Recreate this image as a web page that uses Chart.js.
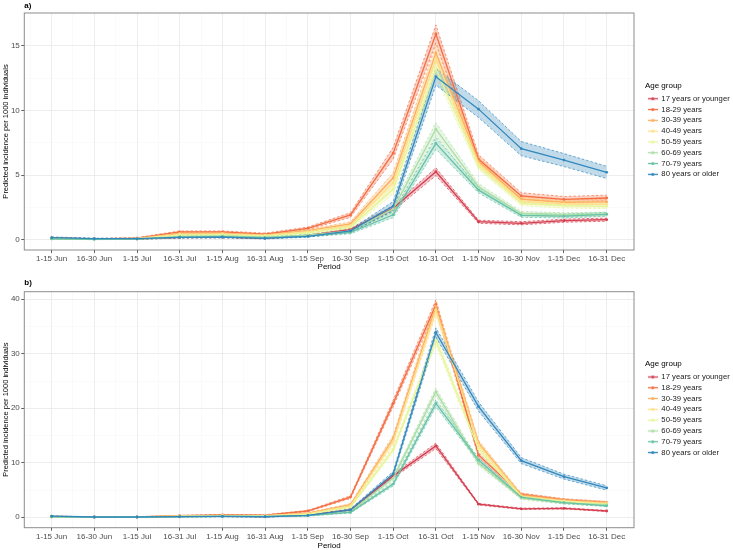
<!DOCTYPE html>
<html>
<head>
<meta charset="utf-8">
<script src="https://cdn.jsdelivr.net/npm/chart.js@4.4.1/dist/chart.umd.min.js"></script>
<style>
  html, body { margin: 0; padding: 0; background: #fff; width: 733px; height: 550px; overflow: hidden; }
  canvas { display: block; position: absolute; left: 0; }
  #panelA { top: 0; }
  #panelB { top: 275px; }
</style>
</head>
<body>
<canvas id="panelA" width="733" height="275"></canvas>
<canvas id="panelB" width="733" height="279"></canvas>
<script>
// ============================================================
//  DATA
// ============================================================

const periods = ['1-15 Jun', '16-30 Jun', '1-15 Jul', '16-31 Jul', '1-15 Aug', '16-31 Aug', '1-15 Sep',
                 '16-30 Sep', '1-15 Oct', '16-31 Oct', '1-15 Nov', '16-30 Nov', '1-15 Dec', '16-31 Dec'];

const ageGroups = ['17 years or younger', '18-29 years', '30-39 years', '40-49 years',
                   '50-59 years', '60-69 years', '70-79 years', '80 years or older'];

const groupColors = ['#D53E4F', '#F46D43', '#FDAE61', '#FEE08B', '#E6F598', '#ABDDA4', '#66C2A5', '#3288BD'];

// panel a) - predicted incidence
const a17 = [0.15, 0.08, 0.08, 0.20, 0.22, 0.15, 0.35, 0.80, 2.45, 5.27, 1.41, 1.29, 1.49, 1.57];
const a18 = [0.15, 0.08, 0.15, 0.62, 0.62, 0.46, 0.90, 1.93, 6.70, 15.90, 6.23, 3.40, 3.14, 3.24];
const a30 = [0.12, 0.08, 0.12, 0.50, 0.52, 0.40, 0.72, 1.25, 4.80, 14.45, 6.05, 3.15, 2.90, 2.95];
const a40 = [0.12, 0.07, 0.10, 0.45, 0.48, 0.36, 0.65, 1.12, 4.40, 14.00, 5.90, 3.00, 2.80, 2.75];
const a50 = [0.10, 0.07, 0.10, 0.38, 0.42, 0.32, 0.55, 1.00, 3.90, 13.20, 5.75, 2.85, 2.65, 2.60];
const a60 = [0.08, 0.05, 0.08, 0.28, 0.32, 0.22, 0.38, 0.70, 2.40, 8.55, 4.10, 2.05, 1.95, 2.00];
const a70 = [0.08, 0.05, 0.07, 0.22, 0.25, 0.18, 0.30, 0.58, 1.95, 7.46, 3.85, 1.90, 1.85, 1.98];
const a80 = [0.18, 0.10, 0.10, 0.20, 0.22, 0.12, 0.28, 0.70, 2.62, 12.60, 10.10, 7.05, 6.17, 5.22];

// panel a) - half width of the confidence band
const a17ci = [0.05, 0.03, 0.03, 0.05, 0.05, 0.05, 0.06, 0.10, 0.20, 0.30, 0.12, 0.12, 0.12, 0.12];
const a18ci = [0.05, 0.03, 0.04, 0.08, 0.08, 0.07, 0.10, 0.18, 0.45, 0.70, 0.35, 0.25, 0.22, 0.22];
const a30ci = [0.04, 0.03, 0.04, 0.07, 0.07, 0.06, 0.08, 0.15, 0.40, 0.60, 0.35, 0.22, 0.20, 0.20];
const a40ci = [0.04, 0.03, 0.04, 0.07, 0.07, 0.06, 0.08, 0.15, 0.40, 0.60, 0.35, 0.22, 0.20, 0.20];
const a50ci = [0.04, 0.03, 0.04, 0.06, 0.06, 0.05, 0.08, 0.14, 0.35, 0.55, 0.32, 0.20, 0.18, 0.18];
const a60ci = [0.03, 0.02, 0.03, 0.05, 0.05, 0.04, 0.06, 0.10, 0.25, 0.50, 0.25, 0.15, 0.15, 0.15];
const a70ci = [0.03, 0.02, 0.03, 0.05, 0.05, 0.04, 0.06, 0.10, 0.22, 0.45, 0.22, 0.15, 0.15, 0.15];
const a80ci = [0.06, 0.04, 0.04, 0.05, 0.05, 0.04, 0.06, 0.12, 0.35, 0.65, 0.65, 0.55, 0.50, 0.47];

// panel b) - predicted incidence
const b17 = [0.10, 0.03, 0.03, 0.15, 0.20, 0.12, 0.40, 1.35, 7.60, 13.10, 2.40, 1.55, 1.65, 1.15];
const b18 = [0.15, 0.05, 0.08, 0.30, 0.45, 0.40, 1.15, 3.70, 20.90, 39.00, 11.40, 4.20, 3.20, 2.70];
const b30 = [0.10, 0.04, 0.06, 0.25, 0.35, 0.30, 0.75, 2.30, 14.50, 38.70, 13.60, 4.10, 3.15, 2.70];
const b40 = [0.10, 0.04, 0.05, 0.22, 0.32, 0.28, 0.65, 2.10, 13.90, 38.00, 13.30, 3.90, 3.00, 2.55];
const b50 = [0.08, 0.03, 0.05, 0.18, 0.28, 0.24, 0.55, 1.85, 12.40, 32.50, 12.50, 3.70, 2.90, 2.40];
const b60 = [0.06, 0.02, 0.04, 0.12, 0.20, 0.15, 0.35, 1.05, 7.20, 23.00, 9.90, 3.50, 2.60, 2.30];
const b70 = [0.06, 0.02, 0.03, 0.10, 0.16, 0.12, 0.30, 0.90, 6.10, 20.90, 10.50, 3.70, 2.70, 2.10];
const b80 = [0.20, 0.05, 0.05, 0.12, 0.15, 0.10, 0.35, 1.35, 7.95, 33.90, 20.30, 10.40, 7.46, 5.38];

// panel b) - half width of the confidence band
const b17ci = [0.05, 0.02, 0.02, 0.05, 0.05, 0.05, 0.08, 0.15, 0.35, 0.50, 0.15, 0.12, 0.12, 0.10];
const b18ci = [0.05, 0.02, 0.03, 0.06, 0.08, 0.08, 0.12, 0.25, 0.60, 0.90, 0.45, 0.25, 0.20, 0.20];
const b30ci = [0.04, 0.02, 0.03, 0.05, 0.07, 0.07, 0.10, 0.20, 0.55, 0.90, 0.50, 0.25, 0.20, 0.20];
const b40ci = [0.04, 0.02, 0.03, 0.05, 0.07, 0.07, 0.10, 0.20, 0.55, 0.90, 0.50, 0.25, 0.20, 0.20];
const b50ci = [0.04, 0.02, 0.03, 0.05, 0.06, 0.06, 0.09, 0.18, 0.50, 0.85, 0.45, 0.22, 0.20, 0.18];
const b60ci = [0.03, 0.02, 0.02, 0.04, 0.05, 0.05, 0.07, 0.12, 0.40, 0.70, 0.40, 0.20, 0.18, 0.15];
const b70ci = [0.03, 0.02, 0.02, 0.04, 0.05, 0.05, 0.07, 0.12, 0.35, 0.65, 0.40, 0.20, 0.18, 0.15];
const b80ci = [0.06, 0.02, 0.02, 0.04, 0.05, 0.04, 0.08, 0.20, 0.45, 0.85, 0.85, 0.55, 0.45, 0.40];

// axis ticks
const xGrid = [-0.5, 0, 0.5, 1, 1.5, 2, 2.5, 3, 3.5, 4, 4.5, 5, 5.5, 6, 6.5, 7, 7.5, 8, 8.5, 9, 9.5,
               10, 10.5, 11, 11.5, 12, 12.5, 13, 13.5];
const yGridA = [0, 2.5, 5, 7.5, 10, 12.5, 15];
const yLabelsA = [0, 5, 10, 15];
const yGridB = [0, 5, 10, 15, 20, 25, 30, 35, 40];
const yLabelsB = [0, 10, 20, 30, 40];

Chart.defaults.font.family = '"Liberation Sans", Arial, sans-serif';

// ============================================================
//  HELPERS
// ============================================================

function hexToRgba(hex, alpha) {
    const n = parseInt(hex.slice(1), 16);
    return `rgba(${(n >> 16) & 255}, ${(n >> 8) & 255}, ${n & 255}, ${alpha})`;
}

// little line + dot key, like the ggplot legend
function legendKey(color) {
    const c = document.createElement('canvas');
    c.width = 10;
    c.height = 5;
    const g = c.getContext('2d');
    g.strokeStyle = color;
    g.lineWidth = 1.3;
    g.beginPath();
    g.moveTo(0, 2.5);
    g.lineTo(10, 2.5);
    g.stroke();
    g.fillStyle = color;
    g.beginPath();
    g.arc(5, 2.5, 1.6, 0, Math.PI * 2);
    g.fill();
    return c;
}

const panelBorder = {
    id: 'panelBorder',
    afterDatasetsDraw(chart) {
        const { ctx, chartArea: a } = chart;
        ctx.save();
        ctx.strokeStyle = '#8c8c8c';
        ctx.lineWidth = 1;
        ctx.strokeRect(a.left, a.top, a.right - a.left, a.bottom - a.top);
        ctx.restore();
    }
};

function buildDatasets(means, cis) {
    const bands = [];
    const lines = [];
    ageGroups.forEach((name, g) => {
        const color = groupColors[g];
        const dashed = {
            label: '',
            borderColor: color,
            borderWidth: 0.7,
            borderDash: [2.5, 2],
            pointRadius: 0,
            tension: 0,
            order: 100 + (7 - g)
        };
        bands.push({ ...dashed, data: means[g].map((v, i) => ({ x: i, y: v - cis[g][i] })), fill: false });
        bands.push({ ...dashed, data: means[g].map((v, i) => ({ x: i, y: v + cis[g][i] })), fill: '-1',
                     backgroundColor: hexToRgba(color, 0.3) });
        lines.push({
            label: name,
            isMean: true,
            data: means[g].map((v, i) => ({ x: i, y: v })),
            borderColor: color,
            backgroundColor: color,
            borderWidth: 1.3,
            pointRadius: 1.4,
            pointBorderWidth: 0,
            pointBackgroundColor: color,
            tension: 0,
            fill: false,
            order: 7 - g
        });
    });
    return bands.concat(lines);
}

function gridStyle(isMajor) {
    return {
        color: ctx => isMajor(ctx.tick.value) ? '#ebebeb' : '#f5f5f5',
        lineWidth: ctx => isMajor(ctx.tick.value) ? 0.9 : 0.5,
        tickLength: 3,
        tickWidth: 0.8,
        tickColor: ctx => isMajor(ctx.tick.value) ? '#333333' : 'rgba(0,0,0,0)'
    };
}

// ============================================================
//  PANELS
// ============================================================

function makePanel(id, tag, means, cis, yMin, yMax, yGrid, yLabels, geo) {
    return new Chart(document.getElementById(id), {
        type: 'line',
        data: { datasets: buildDatasets(means, cis) },
        options: {
            responsive: false,
            animation: false,
            devicePixelRatio: 1,
            events: [],
            layout: { padding: 0 },
            scales: {
                x: {
                    type: 'linear',
                    min: -0.64,
                    max: 13.64,
                    afterBuildTicks: axis => { axis.ticks = xGrid.map(v => ({ value: v })); },
                    afterFit: axis => { axis.height = geo.xHeight; },
                    grid: gridStyle(v => Number.isInteger(v)),
                    border: { display: false },
                    ticks: {
                        autoSkip: false,
                        maxRotation: 0,
                        minRotation: 0,
                        padding: 1,
                        color: '#4d4d4d',
                        font: { size: 8 },
                        callback: v => Number.isInteger(v) ? periods[v] : ''
                    },
                    title: { display: true, text: 'Period', color: '#000', font: { size: 8 },
                             padding: { top: 0, bottom: 3 } }
                },
                y: {
                    type: 'linear',
                    min: yMin,
                    max: yMax,
                    afterBuildTicks: axis => { axis.ticks = yGrid.map(v => ({ value: v })); },
                    afterFit: axis => { axis.width = 24.3; },
                    grid: gridStyle(v => yLabels.includes(v)),
                    border: { display: false },
                    ticks: {
                        padding: 1.5,
                        color: '#4d4d4d',
                        font: { size: 8 },
                        callback: v => yLabels.includes(v) ? String(v) : ''
                    },
                    title: { display: true, text: 'Predicted incidence per 1000 individuals', color: '#000',
                             font: { size: 7.5 }, padding: { top: 1.7, bottom: 0 } }
                },
                // empty space between the panel and the legend
                gap: {
                    type: 'linear',
                    axis: 'y',
                    position: 'right',
                    grid: { display: false },
                    border: { display: false },
                    ticks: { display: false },
                    afterFit: axis => { axis.width = 10.9; }
                }
            },
            plugins: {
                tooltip: { enabled: false },
                title: {
                    display: true,
                    text: tag,
                    align: 'start',
                    fullSize: false,
                    color: '#000',
                    font: { size: 8, weight: 'bold' },
                    padding: { top: geo.titleTop, bottom: geo.titleBottom }
                },
                legend: {
                    position: 'right',
                    align: 'center',
                    fullSize: false,
                    maxWidth: 88.1,
                    title: { display: true, text: 'Age group', position: 'start', color: '#000',
                             font: { size: 8 }, padding: { top: 0, bottom: 0.5 } },
                    labels: {
                        usePointStyle: true,
                        pointStyleWidth: 9.5,
                        padding: 3.1,
                        color: '#1a1a1a',
                        font: { size: 7.7 },
                        generateLabels: chart => chart.data.datasets
                            .map((ds, i) => ({ ds, i }))
                            .filter(o => o.ds.isMean)
                            .map(o => ({
                                text: o.ds.label,
                                pointStyle: legendKey(o.ds.borderColor),
                                datasetIndex: o.i,
                                hidden: false,
                                fontColor: '#1a1a1a',
                                lineWidth: 0,
                                strokeStyle: 'rgba(0,0,0,0)',
                                fillStyle: o.ds.borderColor
                            }))
                    }
                }
            }
        },
        plugins: [panelBorder]
    });
}

makePanel('panelA', 'a)',
    [a17, a18, a30, a40, a50, a60, a70, a80],
    [a17ci, a18ci, a30ci, a40ci, a50ci, a60ci, a70ci, a80ci],
    -0.772, 17.52, yGridA, yLabelsA,
    { titleTop: 1.2, titleBottom: 2.2, xHeight: 25 });

makePanel('panelB', 'b)',
    [b17, b18, b30, b40, b50, b60, b70, b80],
    [b17ci, b18ci, b30ci, b40ci, b50ci, b60ci, b70ci, b80ci],
    -1.91, 41.39, yGridB, yLabelsB,
    { titleTop: 3.3, titleBottom: 3.8, xHeight: 26.3 });
</script>
</body>
</html>
